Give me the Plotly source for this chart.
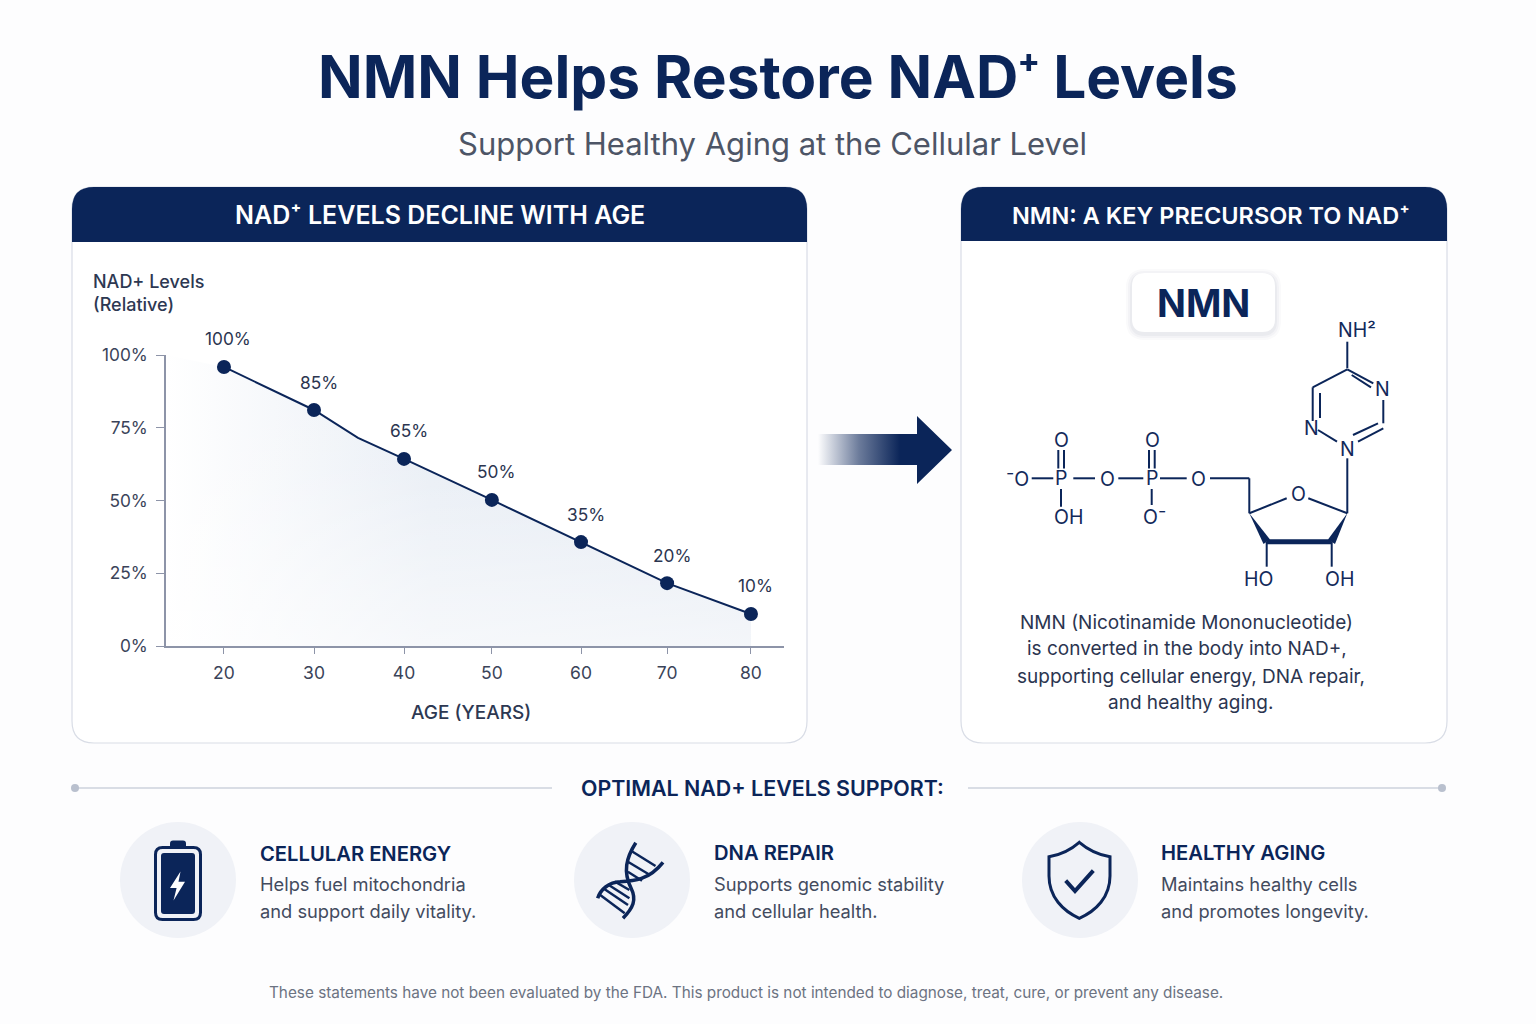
import plotly.graph_objects as go

NAVY = '#0b2559'
FONT = 'Inter'

# chart values
ages = [20, 30, 40, 50, 60, 70, 80]
age_pos = [20, 30.25, 40.5, 50.5, 60.65, 70.45, 80]
nad_values = [95.9, 81.1, 64.3, 50.2, 35.7, 21.6, 11.0]
nad_labels = ['100%', '85%', '65%', '50%', '35%', '20%', '10%']
line_x = [20, 30.25, 35.26, 40.5, 50.5, 60.65, 70.45, 80]
line_y = [95.9, 81.1, 71.5, 64.3, 50.2, 35.7, 21.6, 11.0]
area_x = [13.4] + line_x
area_y = [100] + line_y
y_ticks = [0, 25, 50, 75, 100]

features = [
    ('CELLULAR ENERGY', 'Helps fuel mitochondria', 'and support daily vitality.', 260, 853),
    ('DNA REPAIR', 'Supports genomic stability', 'and cellular health.', 714, 852),
    ('HEALTHY AGING', 'Maintains healthy cells', 'and promotes longevity.', 1161, 852),
]
icon_centers = [178, 632, 1080]

desc_lines = [
    ('NMN (Nicotinamide Mononucleotide)', 1186, 622),
    ('is converted in the body into NAD+,', 1187, 648),
    ('supporting cellular energy, DNA repair,', 1191, 676),
    ('and healthy aging.', 1190, 702),
]

# structure drawing, page pixels
bonds = [
    (1347.3, 341.7, 1347.3, 368.3), (1347.3, 369.3, 1312.7, 387.3), (1312.7, 387.3, 1312.7, 421),
    (1320, 393, 1320, 418), (1318, 430, 1337, 441.7), (1353, 435, 1378, 423.3),
    (1358, 441.7, 1383.3, 428.3), (1383.3, 423.3, 1383.3, 400), (1347.3, 369.3, 1373.3, 383.3),
    (1351.7, 375, 1371, 387.3), (1347.3, 458.3, 1347.3, 513.3),
    (1249.3, 513.3, 1286.7, 498.3), (1308.3, 498.3, 1347.3, 513.3),
    (1266.7, 541.7, 1266.7, 566.7), (1331.7, 541.7, 1331.7, 566.7),
    (1249.3, 513.3, 1249.3, 478.3), (1249.3, 478.3, 1210, 478.3),
    (1160, 478.3, 1186.7, 478.3), (1118.3, 478.3, 1143.3, 478.3), (1073.3, 478.3, 1095, 478.3),
    (1031.7, 478.3, 1053.3, 478.3), (1058.3, 450, 1058.3, 468.5), (1064, 450, 1064, 468.5),
    (1149, 450, 1149, 468.5), (1154.7, 450, 1154.7, 468.5),
    (1061, 489, 1061, 506.7), (1151.7, 489, 1151.7, 505),
]
atoms = [
    ('NH²', 1357, 330), ('N', 1382, 389), ('N', 1311, 428), ('N', 1347, 449), ('O', 1298, 494),
    ('HO', 1258, 578.5), ('OH', 1339, 578.5), ('O', 1198, 479), ('P', 1152, 478), ('O', 1107, 479),
    ('P', 1061, 478), ('⁻O', 1017, 479), ('O', 1061, 440), ('O', 1152, 440), ('OH', 1068, 517), ('O⁻', 1154, 517),
]

shapes = []
notes = []


def rrect(x0, y0, x1, y1, r, top_only=False):
    p = f'M {x0+r},{y0} L {x1-r},{y0} Q {x1},{y0} {x1},{y0+r} '
    if top_only:
        p += f'L {x1},{y1} L {x0},{y1} '
    else:
        p += f'L {x1},{y1-r} Q {x1},{y1} {x1-r},{y1} L {x0+r},{y1} Q {x0},{y1} {x0},{y1-r} '
    return p + f'L {x0},{y0+r} Q {x0},{y0} {x0+r},{y0} Z'


def path(d, fill=None, line=None, w=0, layer='below'):
    shapes.append(dict(type='path', path=d, xref='x', yref='y', layer=layer,
                       fillcolor=fill or 'rgba(0,0,0,0)',
                       line=dict(color=line or 'rgba(0,0,0,0)', width=w)))


def seg(x0, y0, x1, y1, w=2, color=NAVY, layer='below'):
    shapes.append(dict(type='line', x0=x0, y0=y0, x1=x1, y1=y1, xref='x', yref='y', layer=layer,
                       line=dict(color=color, width=w)))


def circle(cx, cy, r, fill):
    shapes.append(dict(type='circle', x0=cx-r, x1=cx+r, y0=cy-r, y1=cy+r, xref='x', yref='y', layer='below',
                       fillcolor=fill, line=dict(width=0)))


def text(s, x, y, size, color=NAVY, weight=400, anchor='center'):
    if anchor == 'left':
        x -= 2  # annotation box padding
    notes.append(dict(text=s, x=x, y=y, xref='x', yref='y', showarrow=False, xanchor=anchor, yanchor='middle',
                      font=dict(family=FONT, size=size, color=color, weight=weight)))


# cards
for x0, x1, yh in [(72, 807, 242), (961, 1447, 241)]:
    path(rrect(x0, 187, x1, 743, 22), fill='#ffffff', line='#d9dde6', w=1.2)
    path(rrect(x0, 187, x1, yh, 22, top_only=True), fill=NAVY)

text('NMN Helps Restore NAD<span style="font-family:Noto Sans">⁺</span> Levels', 778, 75, 58.6, weight=700)
text('Support Healthy Aging at the Cellular Level', 772, 143, 31, color='#4d5566')
text('NAD⁺ LEVELS DECLINE WITH AGE', 440, 215, 25, color='#ffffff', weight=600)
text('NMN: A KEY PRECURSOR TO NAD⁺', 1211, 215, 23.5, color='#ffffff', weight=600)
text('NAD+ Levels', 93, 281, 18, color='#2d3852', weight=500, anchor='left')
text('(Relative)', 93, 304, 18, color='#2d3852', weight=500, anchor='left')
text('AGE (YEARS)', 471, 712, 19, color='#2d3852', weight=500)

# NMN badge with soft shadow
for grow, alpha in [(6, .025), (4, .03), (2, .04)]:
    path(rrect(1132-grow, 273-grow+2, 1275+grow, 332+grow+2, 13+grow), fill=f'rgba(30,45,80,{alpha})')
path(rrect(1132, 273, 1275, 332, 13), fill='#ffffff')
text('NMN', 1203, 303, 38, weight=700)

# molecule
for b in bonds:
    seg(*b, w=2)
path('M 1249.3,513.3 L 1263.5,544 L 1270,539.5 Z', fill=NAVY)
path('M 1347.3,513.3 L 1328,539.5 L 1335,544 Z', fill=NAVY)
seg(1266.7, 541.7, 1331.7, 541.7, w=5)
for s, x, y in atoms:
    text(s, x, y, 19.5, color='#12295a')
for s, x, y in desc_lines:
    text(s, x, y, 19, color='#2b3550')

# divider row
seg(75, 788, 552, 788, w=1.5, color='#cdd2dd')
seg(968, 788, 1442, 788, w=1.5, color='#cdd2dd')
circle(75, 788, 4, '#b9c0ce')
circle(1442, 788, 4, '#b9c0ce')
text('OPTIMAL NAD+ LEVELS SUPPORT:', 762, 788, 21.4, weight=600)

# feature icons
for cx in icon_centers:
    circle(cx, 880, 58, '#f0f2f7')
# battery
path(rrect(170, 840.5, 186, 850, 3), fill=NAVY)
path(rrect(155.5, 847.5, 200.5, 919.5, 7), fill='#f0f2f7', line=NAVY, w=3)
path(rrect(161, 853, 195, 914, 3), fill=NAVY)
path('M 180.5,871.5 L 170,888 L 176.6,888 L 173.5,900.5 L 185,881.7 L 178.5,881.7 Z', fill='#ffffff')
# dna
path('M 635.8,842.7 C 626,858 623,872 631,888 C 637,900 633,908 623,918.3', line=NAVY, w=3.5)
path('M 663,862.3 C 649,880 634,881 620,881.7 C 609,882 600,890 597.7,898.3', line=NAVY, w=3.5)
for r in [(631, 850.7, 655.5, 866), (627.9, 861.7, 650, 875), (627.9, 871.7, 642, 880.7),
          (615, 881.7, 629.4, 890), (608.8, 885, 629.4, 898.3), (604.7, 889.3, 628, 905), (600.2, 895, 624.7, 913.3)]:
    seg(*r, w=2.5)
# shield
path('M 1079.3,842.3 Q 1093,854 1110,856.7 L 1110,876 C 1110,897 1096,911 1079.3,918.3 '
     'C 1063,911 1049,897 1049,876 L 1049,856.7 Q 1066,854 1079.3,842.3 Z', line=NAVY, w=3)
path('M 1065.7,880.7 L 1075,891 L 1093.3,870.7', line=NAVY, w=4)

for head, l1, l2, x, y in features:
    text(head, x, y, 20.2, weight=600, anchor='left')
    text(l1, x, 884, 18.3, color='#434b5e', anchor='left')
    text(l2, x, 911, 18.3, color='#434b5e', anchor='left')

text('These statements have not been evaluated by the FDA. This product is not intended to diagnose, treat, cure, or prevent any disease.',
     746, 992, 15.3, color='#6c7382')

# value labels follow the data
for a, v, lab in zip(age_pos, nad_values, nad_labels):
    notes.append(dict(text=lab, x=a, y=v, xref='x2', yref='y2', xshift=4.5, yshift=28, showarrow=False,
                      font=dict(family=FONT, size=17.3, color='#2b3550')))

fig = go.Figure()
# arrow between the cards, fades out to the left
fig.add_trace(go.Scatter(x=[818, 917, 917, 952, 917, 917, 818, 818], y=[434, 434, 416, 450, 484, 465, 465, 434],
                         mode='none', fill='toself', hoverinfo='skip', showlegend=False,
                         fillgradient=dict(type='horizontal', start=818, stop=900,
                                           colorscale=[[0, 'rgba(11,37,89,0)'], [.5, 'rgba(11,37,89,.6)'], [1, 'rgba(11,37,89,1)']])))

fig.add_trace(go.Scatter(x=area_x, y=area_y, xaxis='x2', yaxis='y2', mode='none', fill='tozeroy', hoverinfo='skip', showlegend=False,
                         fillgradient=dict(type='horizontal', start=13.4, stop=80,
                                           colorscale=[[0, '#ffffff'], [.45, '#e9eef5'], [1, '#e3e9f2']])))
fig.add_trace(go.Scatter(x=area_x, y=area_y, xaxis='x2', yaxis='y2', mode='none', fill='tozeroy', hoverinfo='skip', showlegend=False,
                         fillgradient=dict(type='vertical', start=0, stop=100,
                                           colorscale=[[0, 'rgba(255,255,255,.6)'], [.6, 'rgba(255,255,255,.1)'], [1, 'rgba(255,255,255,0)']])))
fig.add_trace(go.Scatter(x=line_x, y=line_y, xaxis='x2', yaxis='y2', mode='lines', line=dict(color=NAVY, width=2), hoverinfo='skip', showlegend=False))
fig.add_trace(go.Scatter(x=age_pos, y=nad_values, xaxis='x2', yaxis='y2', mode='markers', marker=dict(color=NAVY, size=14), showlegend=False))

fig.update_layout(
    width=1536, height=1024, margin=dict(l=0, r=0, t=0, b=0),
    paper_bgcolor='#fdfdfe', plot_bgcolor='rgba(0,0,0,0)', showlegend=False,
    font=dict(family=FONT, color='#3a4359'),
    shapes=shapes, annotations=notes,
    # page pixel axes first so that the cards sit under the chart subplot
    xaxis=dict(domain=[0, 1], range=[0, 1536], visible=False, anchor='y', automargin=False),
    yaxis=dict(domain=[0, 1], range=[1024, 0], visible=False, anchor='x', automargin=False),
    xaxis2=dict(domain=[166/1536, 784/1536], range=[13.4, 83.76], tickvals=age_pos, ticktext=[str(a) for a in ages],
                anchor='y2', automargin=False, showgrid=False, zeroline=False, showline=True, linecolor='#8d94a8', linewidth=1.5,
                ticks='outside', ticklen=6, tickcolor='#8d94a8', tickfont=dict(size=17.5), ticklabelstandoff=4),
    yaxis2=dict(domain=[1-646/1024, 1-355/1024], range=[0, 100], tickvals=y_ticks, ticktext=[f'{v}%' for v in y_ticks],
                anchor='x2', automargin=False, showgrid=False, zeroline=False, showline=True, linecolor='#8d94a8', linewidth=1.5,
                ticks='outside', ticklen=8, tickcolor='#8d94a8', tickfont=dict(size=17.3), ticklabelstandoff=5),
)

fig.write_html("out.html", config={'displayModeBar': False}, post_script="document.body.style.margin='0';")
